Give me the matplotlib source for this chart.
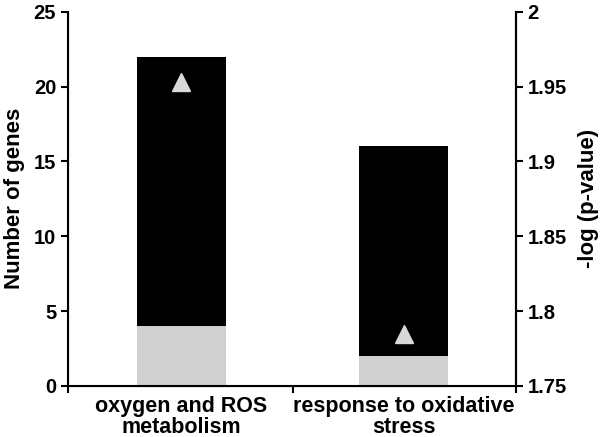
import numpy as np
import matplotlib.pyplot as plt

plt.rcParams['font.family'] = ['Liberation Sans', 'DejaVu Sans']
plt.rcParams['font.weight'] = 'bold'

categories = ["oxygen and ROS\nmetabolism", "response to oxidative\nstress"]
genes_gray = [4, 2]
genes_black = [18, 14]
neg_log_p = [1.953, 1.785]

fig = plt.figure(figsize=(6.02, 4.37), dpi=100)
ax = fig.add_axes([0.113, 0.117, 0.744, 0.856])
x = np.arange(len(categories))

ax.bar(x, genes_gray, width=0.40, color="#d0d0d0")
ax.bar(x, genes_black, width=0.40, bottom=genes_gray, color="black")

ax.set_xlim(-0.51, 1.503)
ax.set_ylim(0, 25)
ax.set_yticks(np.arange(0, 26, 5))
ax.set_xticks([-0.51, 0.5, 1.503])
ax.set_xticklabels([])
for xi, lab in zip(x, categories):
    ax.text(xi, -0.7, lab, ha="center", va="top", fontsize=15.5, fontweight="bold",
            linespacing=0.95)
ax.set_ylabel("Number of genes", fontsize=16, fontweight="bold", labelpad=6)
ax.tick_params(axis="both", direction="out", width=1.5, length=5, labelsize=14.5)
ax.spines["top"].set_visible(False)
for s in ["left", "bottom", "right"]:
    ax.spines[s].set_linewidth(1.5)

ax2 = ax.twinx()
ax2.set_ylim(1.75, 2.0)
ax2.set_yticks([1.75, 1.8, 1.85, 1.9, 1.95, 2.0])
ax2.set_yticklabels(["1.75", "1.8", "1.85", "1.9", "1.95", "2"])
ax2.plot(x, neg_log_p, linestyle="none", marker="^", markersize=13,
         color="#d9d9d9")
ax2.set_ylabel("-log (p-value)", fontsize=16, fontweight="bold", labelpad=8)
ax2.tick_params(axis="y", direction="out", width=1.5, length=5, labelsize=14.5)
ax2.spines["top"].set_visible(False)
ax2.spines["right"].set_linewidth(1.5)

fig.savefig("out.png", dpi=100)
